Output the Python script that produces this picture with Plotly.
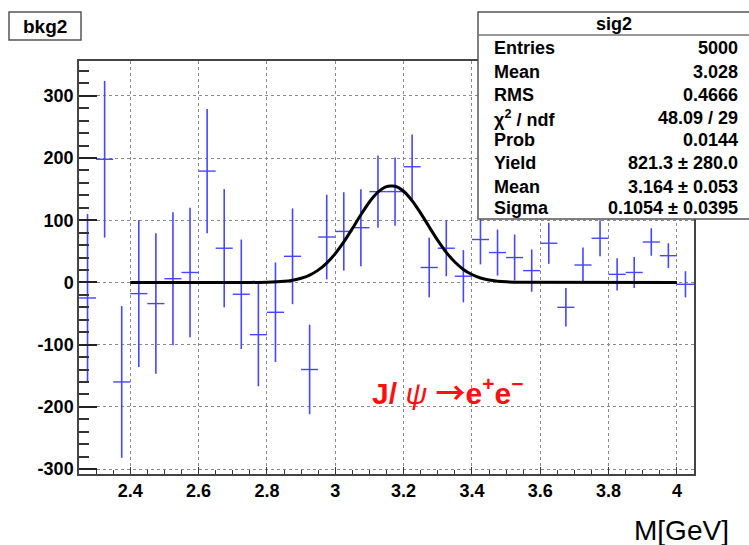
import plotly.graph_objects as go

# ---------------- data ----------------
mass = [2.275, 2.325, 2.375, 2.425, 2.475, 2.525, 2.575, 2.625, 2.675, 2.725,
        2.775, 2.825, 2.875, 2.925, 2.975, 3.025, 3.075, 3.125, 3.175, 3.225,
        3.275, 3.325, 3.375, 3.425, 3.475, 3.525, 3.575, 3.625, 3.675, 3.725,
        3.775, 3.825, 3.875, 3.925, 3.975, 4.025]
counts = [-25, 198, -160, -18, -34, 6, 16, 179, 55, -19,
          -84, -48, 42, -140, 73, 82, 88, 146, 146, 186,
          24, 55, 10, 69, 48, 40, 19, 63, -40, 28,
          71, 13, 16, 65, 43, -3]
errors = [135, 126, 122, 118, 113, 107, 104, 100, 95, 88,
          83, 80, 77, 72, 68, 63, 62, 58, 55, 52,
          48, 45, 42, 40, 37, 37, 34, 33, 31, 28,
          29, 26, 25, 22, 20, 21]
half_bin = [0.025] * len(mass)

fit_x = [2.4, 2.75, 2.8, 2.85, 2.875, 2.9, 2.925, 2.95, 2.975, 3.0, 3.025, 3.05,
         3.075, 3.1, 3.125, 3.15, 3.175, 3.2, 3.225, 3.25, 3.275, 3.3, 3.325,
         3.35, 3.375, 3.4, 3.425, 3.45, 3.475, 3.5, 3.55, 4.0]
fit_y = [0, 0, 0.4, 1.8, 3.6, 6.7, 11.9, 19.8, 31.1, 46.3, 65.1, 86.6,
         108.8, 129.3, 145.1, 154.0, 154.6, 146.6, 131.4, 111.4, 89.2, 67.6, 48.4,
         32.8, 20.9, 12.7, 7.2, 3.9, 2.0, 1.0, 0.2, 0]

x_tickvals = [2.4, 2.6, 2.8, 3.0, 3.2, 3.4, 3.6, 3.8, 4.0]
x_ticktext = ["2.4", "2.6", "2.8", "3", "3.2", "3.4", "3.6", "3.8", "4"]
y_tickvals = [-300, -200, -100, 0, 100, 200, 300]
y_ticktext = ["-300", "-200", "-100", "0", "100", "200", "300"]

stats_labels = ["Entries", "Mean", "RMS", "χ<sup>2</sup> / ndf", "Prob",
                "Yield", "Mean", "Sigma"]
stats_values = ["5000", "3.028", "0.4666", "48.09 / 29", "0.0144",
                "821.3 ± 280.0", "3.164 ± 0.053", "0.1054 ± 0.0395"]

# ---------------- layout helpers ----------------
W, H = 749, 545
L, R, T, B = 79, 694, 61, 474  # plot frame in pixels
FONT = "Liberation Sans, Arial, Helvetica, sans-serif"


def px(x):
    return (x - L) / (R - L)


def py(y):
    return (B - y) / (B - T)


fig = go.Figure()

blue = "rgb(70,70,255)"
fig.add_trace(go.Scatter(
    x=mass, y=counts, mode="markers",
    marker=dict(size=0.1, color=blue, opacity=0),
    error_y=dict(type="data", array=errors, visible=True, width=0,
                 thickness=1.6, color=blue),
    error_x=dict(type="data", array=half_bin, visible=True, width=0,
                 thickness=1.4, color=blue),
    showlegend=False, hoverinfo="skip",
))

fig.add_trace(go.Scatter(
    x=fit_x, y=fit_y, mode="lines",
    line=dict(color="black", width=3, shape="spline", smoothing=0.6),
    showlegend=False, hoverinfo="skip",
))

axis_font = dict(family=FONT, size=18, color="black", weight="bold")

fig.update_xaxes(
    range=[2.25, 4.05], tickvals=x_tickvals, ticktext=x_ticktext,
    ticks="inside", ticklen=7, tickwidth=1.2, tickcolor="#333",
    minor=dict(dtick=0.05, tick0=2.25, ticks="inside", ticklen=4,
               tickcolor="#333", showgrid=False),
    showgrid=True, gridcolor="#8a8a8a", griddash="dot", gridwidth=1,
    showline=True, linecolor="#444", linewidth=1.5, mirror=True,
    zeroline=False, tickfont=axis_font,
)
fig.update_yaxes(
    range=[-308, 356], tickvals=y_tickvals, ticktext=y_ticktext,
    ticks="inside", ticklen=18, tickwidth=1.5, tickcolor="#222",
    minor=dict(dtick=20, tick0=0, ticks="inside", ticklen=10,
               tickcolor="#333", showgrid=False),
    showgrid=True, gridcolor="#8a8a8a", griddash="dot", gridwidth=1,
    showline=True, linecolor="#444", linewidth=1.5, mirror=True,
    zeroline=False, tickfont=axis_font,
)

shapes = []
annotations = []

# bkg2 title box
shapes.append(dict(type="rect", xref="paper", yref="paper",
                   x0=px(9), x1=px(81), y0=py(12), y1=py(40),
                   fillcolor="white", line=dict(color="#555", width=1.5),
                   layer="above"))
annotations.append(dict(xref="paper", yref="paper", x=px(45), y=py(26),
                        text="<b>bkg2</b>", showarrow=False,
                        xanchor="center", yanchor="middle",
                        font=dict(family=FONT, size=19, color="black")))

# stats box
shapes.append(dict(type="rect", xref="paper", yref="paper",
                   x0=px(478), x1=px(760), y0=py(12), y1=py(219),
                   fillcolor="white", line=dict(color="#555", width=1.5),
                   layer="above"))
shapes.append(dict(type="line", xref="paper", yref="paper",
                   x0=px(478), x1=px(760), y0=py(35), y1=py(35),
                   line=dict(color="#777", width=1.5), layer="above"))
annotations.append(dict(xref="paper", yref="paper", x=px(614), y=py(24),
                        text="<b>sig2</b>", showarrow=False,
                        xanchor="center", yanchor="middle",
                        font=dict(family=FONT, size=18, color="black")))
row_y = [48, 72, 95, 118, 140, 163, 187, 208]
for lab, val, yy in zip(stats_labels, stats_values, row_y):
    annotations.append(dict(xref="paper", yref="paper", x=px(492), y=py(yy),
                            text="<b>" + lab + "</b>", showarrow=False,
                            xanchor="left", yanchor="middle",
                            font=dict(family=FONT, size=18, color="black")))
    annotations.append(dict(xref="paper", yref="paper", x=px(740), y=py(yy),
                            text="<b>" + val + "</b>", showarrow=False,
                            xanchor="right", yanchor="middle",
                            font=dict(family=FONT, size=18, color="black")))

# decay label
annotations.append(dict(
    xref="paper", yref="paper", x=px(370), y=py(391),
    text=("<b>J/</b> <i>ψ</i> "
          "<span style=\"font-family:'Noto Sans CJK JP'\"><b>→</b></span>"
          "<b>e<sup>+</sup>e<sup>−</sup></b>"),
    showarrow=False, xanchor="left", yanchor="middle",
    font=dict(family=FONT, size=30, color="#ff1010")))

# axis title
annotations.append(dict(
    xref="paper", yref="paper", x=px(632), y=py(530),
    text="M[GeV]", showarrow=False, xanchor="left", yanchor="middle",
    font=dict(family=FONT, size=28, color="black")))

fig.update_layout(
    width=W, height=H,
    margin=dict(l=L, r=W - R, t=T, b=H - B, pad=0),
    paper_bgcolor="white", plot_bgcolor="white",
    shapes=shapes, annotations=annotations,
    showlegend=False,
)

fig.write_html("out.html")
